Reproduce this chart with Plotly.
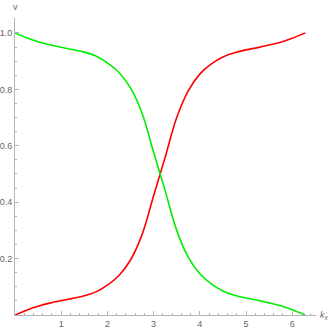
import plotly.graph_objects as go

kx = [0, 0.25, 0.5, 0.75, 1.0, 1.25, 1.5, 1.75, 2.0, 2.25, 2.5, 2.75, 3.0, 3.1416,
      3.25, 3.5, 3.75, 4.0, 4.25, 4.5, 4.75, 5.0, 5.25, 5.5, 5.75, 6.0, 6.25, 6.2832]
v_red = [0.0, 0.017, 0.031, 0.042, 0.051, 0.059, 0.068, 0.082, 0.106, 0.14, 0.195, 0.285, 0.423, 0.5,
         0.559, 0.70, 0.795, 0.854, 0.89, 0.915, 0.93, 0.94, 0.948, 0.957, 0.967, 0.981, 0.998, 1.0]
v_green = [1.0, 0.983, 0.969, 0.958, 0.949, 0.941, 0.932, 0.918, 0.894, 0.86, 0.805, 0.715, 0.577, 0.5,
           0.441, 0.30, 0.205, 0.146, 0.11, 0.085, 0.07, 0.06, 0.052, 0.043, 0.033, 0.019, 0.002, 0.0]

x_ticks = [1, 2, 3, 4, 5, 6]
y_ticks = [0.2, 0.4, 0.6, 0.8, 1.0]
y_tick_labels = ["0.2", "0.4", "0.6", "0.8", "1.0"]

axis_color = "#b5b5b5"
label_color = "#666666"
font_family = "Liberation Sans, Arial, sans-serif"

fig = go.Figure()
fig.add_trace(go.Scatter(x=kx, y=v_red, mode="lines",
                         line=dict(color="#ff0000", width=1.6, shape="spline", smoothing=1.0),
                         showlegend=False, hoverinfo="skip"))
fig.add_trace(go.Scatter(x=kx, y=v_green, mode="lines",
                         line=dict(color="#00ee00", width=1.6, shape="spline", smoothing=1.0),
                         showlegend=False, hoverinfo="skip"))

fig.update_layout(
    width=332, height=331,
    margin=dict(l=15, r=16, t=18, b=16, autoexpand=False),
    paper_bgcolor="white", plot_bgcolor="white",
    font=dict(family=font_family, size=9, color=label_color),
    xaxis=dict(range=[0, 6.515], showgrid=False, zeroline=False, automargin=False,
               showline=True, linecolor=axis_color, linewidth=1,
               tickmode="array", tickvals=x_ticks, ticktext=[str(t) for t in x_ticks],
               ticks="inside", ticklen=4, tickcolor=axis_color, tickwidth=1,
               minor=dict(ticks="inside", ticklen=2, tickcolor=axis_color, dtick=0.2, tick0=0, showgrid=False),
               tickfont=dict(size=9, color=label_color), fixedrange=True),
    yaxis=dict(range=[0, 1.053], showgrid=False, zeroline=False, automargin=False,
               showline=True, linecolor=axis_color, linewidth=1,
               tickmode="array", tickvals=y_ticks, ticktext=y_tick_labels,
               ticks="inside", ticklen=4, tickcolor=axis_color, tickwidth=1,
               minor=dict(ticks="inside", ticklen=2, tickcolor=axis_color, dtick=0.05, tick0=0, showgrid=False),
               tickfont=dict(size=9, color=label_color), fixedrange=True),
    annotations=[
        dict(text="v", xref="paper", yref="paper", x=0, y=1, xanchor="center", yanchor="bottom",
             yshift=4, showarrow=False, font=dict(size=9, color=label_color)),
        dict(text="<i>k</i><sub><i>x</i></sub>", xref="paper", yref="paper", x=1, y=0,
             xanchor="left", yanchor="middle", xshift=2, showarrow=False,
             font=dict(size=9, color=label_color)),
    ],
)

fig.write_html("out.html", config={"displayModeBar": False},
               post_script="document.body.style.margin='0';document.body.style.overflow='hidden';")
